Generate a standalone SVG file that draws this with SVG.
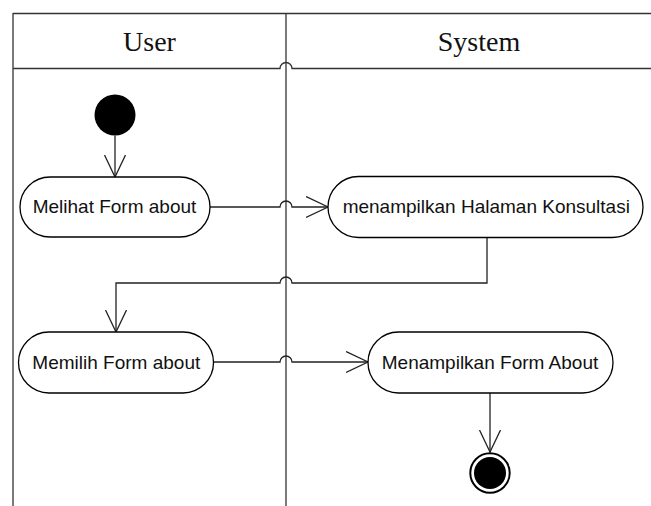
<svg xmlns="http://www.w3.org/2000/svg" width="651" height="506" viewBox="0 0 651 506">
<style>
.lane{fill:none;stroke:#333;stroke-width:1.3}
.node{fill:#fff;stroke:#000;stroke-width:1.3}
.lbl{font-family:"Liberation Sans",Arial,sans-serif;font-size:19px;fill:#111;text-anchor:middle}
.hdr{font-family:"Liberation Serif","Times New Roman",serif;font-size:28px;fill:#111;text-anchor:middle}
.edge{fill:none;stroke:#222;stroke-width:1.3}
</style>
<defs>
<marker id="arr" viewBox="0 0 24 24" refX="22" refY="11" markerWidth="24" markerHeight="24" markerUnits="userSpaceOnUse" orient="auto">
<path d="M0,0.5 L22,11 L0,21.5" fill="none" stroke="#222" stroke-width="1.3"/>
</marker>
</defs>
<g id="swimlanes">
<path class="lane" d="M13,13.5 H651"/>
<path class="lane" d="M13,68.5 H280 A6,6 0 0 1 292,68.5 H651"/>
<path class="lane" d="M13,13 V506"/>
<path class="lane" d="M286,13 V506" stroke="#000"/>
<text class="hdr" x="149.5" y="51">User</text>
<text class="hdr" x="479" y="51">System</text>
</g>
<g id="connectors">
<path class="edge" d="M115,135.5 V177" marker-end="url(#arr)"/>
<path class="edge" d="M210,207 H280 A6,6 0 0 1 292,207 H328" marker-end="url(#arr)"/>
<path class="edge" d="M487,237 V283 H292 A6,6 0 0 0 280,283 H116 V332" marker-end="url(#arr)"/>
<path class="edge" d="M213,362 H280 A6,6 0 0 1 292,362 H368" marker-end="url(#arr)"/>
<path class="edge" d="M490,393 V452" marker-end="url(#arr)"/>
</g>
<g id="start">
<circle cx="115" cy="115" r="20.5" fill="#000"/>
</g>
<g id="melihat-form-about">
<rect class="node" x="20" y="177" width="190" height="60" rx="30" ry="30"/>
<text class="lbl" x="114.5" y="213">Melihat Form about</text>
</g>
<g id="menampilkan-halaman-konsultasi">
<rect class="node" x="328" y="176.5" width="315" height="61" rx="30.5" ry="30.5"/>
<text class="lbl" x="486.3" y="213">menampilkan Halaman Konsultasi</text>
</g>
<g id="memilih-form-about">
<rect class="node" x="18.5" y="332" width="195" height="61" rx="30.5" ry="30.5"/>
<text class="lbl" x="116.3" y="368.5">Memilih Form about</text>
</g>
<g id="menampilkan-form-about">
<rect class="node" x="368" y="332" width="245" height="61" rx="30.5" ry="30.5"/>
<text class="lbl" x="490" y="368.5">Menampilkan Form About</text>
</g>
<g id="end">
<circle cx="490" cy="473" r="19.7" fill="#fff" stroke="#000" stroke-width="2"/>
<circle cx="490" cy="473" r="16" fill="#000"/>
</g>
</svg>
